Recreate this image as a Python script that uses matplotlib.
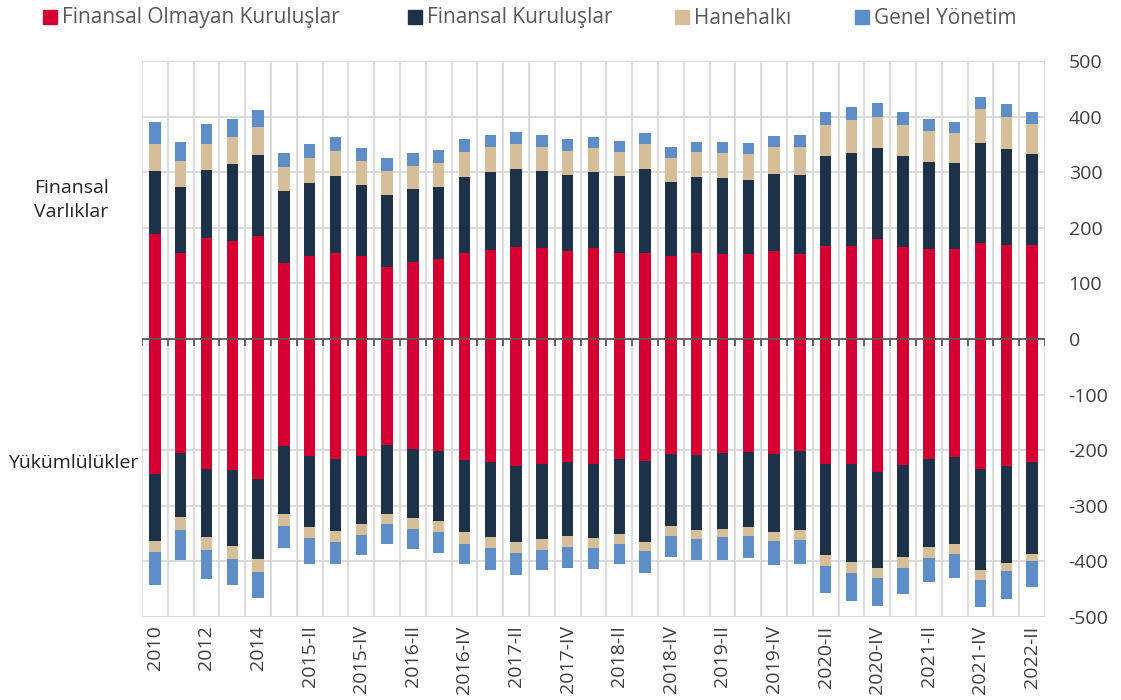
import matplotlib
matplotlib.use("Agg")
import matplotlib.pyplot as plt
from matplotlib.patches import Rectangle
import numpy as np

plt.rcParams['font.family'] = ['Open Sans', 'DejaVu Sans']
plt.rcParams['axes.unicode_minus'] = False

periods = ["2010", "2011", "2012", "2013", "2014",
           "2015-I", "2015-II", "2015-III", "2015-IV",
           "2016-I", "2016-II", "2016-III", "2016-IV",
           "2017-I", "2017-II", "2017-III", "2017-IV",
           "2018-I", "2018-II", "2018-III", "2018-IV",
           "2019-I", "2019-II", "2019-III", "2019-IV",
           "2020-I", "2020-II", "2020-III", "2020-IV",
           "2021-I", "2021-II", "2021-III", "2021-IV",
           "2022-I", "2022-II"]

series_names = ["Finansal Olmayan Kuruluşlar", "Finansal Kuruluşlar", "Hanehalkı", "Genel Yönetim"]
colors = ["#D50032", "#1D3148", "#D6BE9A", "#5F8DC8"]

# Assets (Finansal Varlıklar)
asset_nfc = [189, 154, 182, 176, 186, 136, 150, 154, 150, 130, 138, 143, 155, 160, 166, 163, 158, 163,
             154, 155, 150, 155, 152, 152, 159, 153, 168, 167, 179, 165, 161, 161, 172, 169, 169]
asset_fc = [114, 119, 122, 138, 145, 130, 131, 139, 127, 129, 131, 130, 136, 140, 140, 139, 137, 137,
            139, 150, 132, 137, 138, 134, 137, 142, 161, 168, 164, 164, 158, 156, 180, 173, 164]
asset_hh = [47, 47, 47, 49, 50, 44, 44, 45, 43, 44, 43, 44, 45, 45, 45, 43, 43, 43,
            44, 46, 44, 44, 45, 47, 49, 50, 56, 58, 56, 56, 55, 53, 61, 58, 53]
asset_gg = [40, 35, 35, 32, 30, 24, 25, 25, 24, 23, 23, 23, 23, 22, 22, 22, 22, 20,
            19, 20, 19, 19, 19, 20, 20, 22, 23, 24, 25, 23, 22, 20, 23, 23, 23]

# Liabilities (Yükümlülükler), magnitudes plotted downward
liab_nfc = [243, 205, 234, 236, 252, 192, 211, 215, 210, 190, 197, 202, 218, 221, 228, 224, 221, 224,
            216, 220, 206, 209, 205, 204, 206, 202, 224, 225, 240, 227, 215, 213, 233, 229, 222]
liab_fc = [120, 116, 123, 136, 143, 123, 127, 131, 122, 124, 125, 126, 130, 135, 137, 136, 134, 134,
           134, 145, 131, 134, 137, 134, 141, 142, 165, 176, 171, 165, 159, 156, 183, 173, 164]
liab_hh = [20, 22, 23, 24, 24, 21, 20, 20, 20, 19, 20, 19, 20, 20, 19, 19, 19, 18,
           19, 17, 17, 17, 15, 16, 17, 18, 19, 20, 19, 20, 19, 17, 17, 15, 14]
liab_gg = [60, 54, 52, 47, 46, 39, 46, 39, 37, 36, 36, 37, 37, 40, 40, 37, 38, 37,
           36, 38, 38, 37, 40, 40, 42, 43, 49, 50, 50, 47, 44, 43, 49, 50, 46]

yticks = [500, 400, 300, 200, 100, 0, -100, -200, -300, -400, -500]

fig = plt.figure(figsize=(11.21, 7.0), dpi=100)
ax = fig.add_axes([142 / 1121, 1 - 617 / 700, (1045 - 142) / 1121, (617 - 61) / 700])

x = np.arange(len(periods))
w = 0.44

assets = [asset_nfc, asset_fc, asset_hh, asset_gg]
liabs = [liab_nfc, liab_fc, liab_hh, liab_gg]

bottom = np.zeros(len(x))
for vals, c in zip(assets, colors):
    v = np.array(vals, dtype=float)
    ax.bar(x, v, w, bottom=bottom, color=c, edgecolor='none', zorder=3)
    bottom += v

bottom = np.zeros(len(x))
for vals, c in zip(liabs, colors):
    v = -np.array(vals, dtype=float)
    ax.bar(x, v, w, bottom=bottom, color=c, edgecolor='none', zorder=3)
    bottom += v

ax.set_xlim(-0.5, len(x) - 0.5)
ax.set_ylim(-500, 500)

# gridlines
ax.set_yticks(yticks)
ax.set_yticklabels([str(t) for t in yticks])
ax.yaxis.tick_right()
ax.tick_params(axis='y', length=0, pad=17, labelsize=14, labelcolor='#404040')
ax.grid(axis='y', color='#d9d9d9', linewidth=1.3, zorder=0)

boundaries = np.arange(len(x) + 1) - 0.5
ax.set_xticks(boundaries, minor=True)
ax.grid(axis='x', which='minor', color='#d9d9d9', linewidth=1.3, zorder=0)
ax.set_xticks(x[::2])
ax.set_xticklabels(periods[::2], rotation=90, fontsize=14, color='#404040')
ax.tick_params(axis='x', which='both', length=0, pad=6)

for s in ['top', 'left', 'right', 'bottom']:
    ax.spines[s].set_visible(False)
ax.axhline(500, color='#d9d9d9', lw=1.3, zorder=0)
ax.axhline(-500, color='#d9d9d9', lw=1.3, zorder=0)

# zero line with small tick marks
ax.axhline(0, color='#595959', lw=1.3, zorder=4)
ax.vlines(boundaries, -12, 0, color='#595959', lw=1.3, zorder=4)

# side labels
fig.text(71 / 1121, 1 - 200 / 700, "Finansal\nVarlıklar", fontsize=14, color='#222222',
         ha='center', va='center', multialignment='center', linespacing=1.45)
fig.text(8 / 1121, 1 - 463 / 700, "Yükümlülükler", fontsize=14, color='#222222',
         ha='left', va='center')

# legend drawn in figure coordinates
leg_sq = [43, 408, 675, 855]
for xs, name, c in zip(leg_sq, series_names, colors):
    fig.patches.append(Rectangle((xs / 1121, 1 - 24 / 700), 14 / 1121, 14 / 700,
                                 transform=fig.transFigure, color=c, figure=fig))
    fig.text((xs + 19) / 1121, 1 - 18 / 700, name, fontsize=15, color='#595959',
             ha='left', va='center')

fig.savefig("out.png", dpi=100)
